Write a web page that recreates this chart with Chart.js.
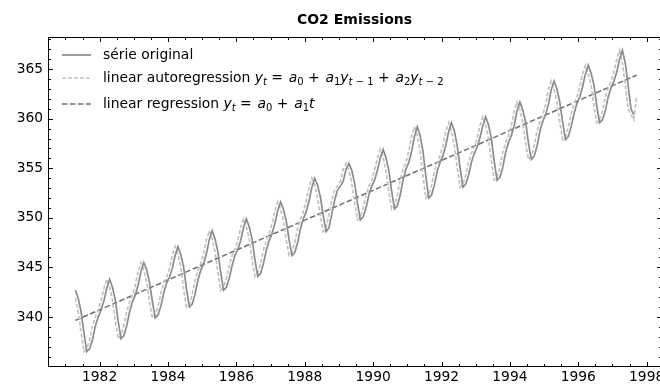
<!DOCTYPE html>
<html>
<head>
<meta charset="utf-8">
<script src="https://cdn.jsdelivr.net/npm/chart.js@4/dist/chart.umd.min.js"></script>
<style>
  html, body { margin: 0; padding: 0; background: #fff; overflow: hidden; }
  #wrap { width: 660px; height: 385px; overflow: hidden; position: relative; }
  #wrap canvas { position: absolute; left: 0; top: 0; }
</style>
</head>
<body>
<div id="wrap"><canvas id="chart" width="680" height="385" style="width:680px;height:385px"></canvas></div>
<script>
// Monthly CO2 readings (ppm), May 1981 to September 1997
const startYear = 1981, startMonth = 5;
const co2 = [
  342.7, 341.9, 340.5, 338.4, 336.5, 336.8, 337.7, 339.1,
  340.0, 340.7, 341.6, 342.9, 343.8, 343.0, 341.7, 339.6, 337.8, 338.1, 339.1, 340.5,
  341.5, 342.2, 343.2, 344.6, 345.5, 344.8, 343.5, 341.6, 339.9, 340.2, 341.1, 342.4,
  343.4, 344.0, 344.9, 346.2, 347.1, 346.3, 345.0, 342.8, 341.0, 341.3, 342.3, 343.7,
  344.7, 345.4, 346.4, 347.8, 348.7, 347.9, 346.6, 344.5, 342.7, 343.0, 343.9, 345.2,
  346.2, 346.8, 347.7, 349.0, 349.9, 349.1, 347.9, 345.8, 344.1, 344.4, 345.4, 346.7,
  347.7, 348.4, 349.4, 350.7, 351.6, 350.9, 349.7, 347.8, 346.2, 346.5, 347.5, 348.9,
  349.9, 350.6, 351.7, 353.1, 354.0, 353.3, 352.1, 350.2, 348.6, 349.0, 350.4, 351.8,
  352.8, 353.2, 353.7, 354.9, 355.5, 354.8, 353.5, 351.5, 349.8, 350.1, 351.0, 352.3,
  353.2, 353.8, 354.8, 356.0, 356.9, 356.1, 354.8, 352.7, 350.9, 351.2, 352.3, 353.8,
  354.9, 355.6, 356.7, 358.2, 359.2, 358.3, 356.7, 354.2, 352.0, 352.3, 353.3, 354.7,
  355.6, 356.3, 357.3, 358.7, 359.6, 358.8, 357.3, 355.1, 353.1, 353.4, 354.3, 355.6,
  356.5, 357.1, 358.1, 359.3, 360.2, 359.4, 358.0, 355.7, 353.8, 354.1, 355.1, 356.6,
  357.6, 358.3, 359.3, 360.8, 361.7, 360.9, 359.7, 357.6, 355.9, 356.2, 357.2, 358.7,
  359.7, 360.4, 361.4, 362.9, 363.8, 363.0, 361.7, 359.7, 357.9, 358.2, 359.2, 360.5,
  361.5, 362.2, 363.2, 364.5, 365.4, 364.6, 363.4, 361.3, 359.6, 359.9, 360.8, 362.2,
  363.1, 363.8, 364.7, 366.0, 366.9, 365.6, 363.4, 361.0, 360.4
];

// Fitted values of the second-order autoregression, May 1981 to October 1997
const arFit = [
  341.9, 340.5, 338.4, 336.5, 336.8, 337.7, 339.1, 340.0,
  340.7, 341.6, 342.9, 343.8, 343.0, 341.7, 339.6, 337.8, 338.1, 339.1, 340.5, 341.5,
  342.2, 343.2, 344.6, 345.5, 344.8, 343.5, 341.6, 339.9, 340.2, 341.1, 342.4, 343.4,
  344.0, 344.9, 346.2, 347.1, 346.3, 345.0, 342.8, 341.0, 341.3, 342.3, 343.7, 344.7,
  345.4, 346.4, 347.8, 348.7, 347.9, 346.6, 344.5, 342.7, 343.0, 343.9, 345.2, 346.2,
  346.8, 347.7, 349.0, 349.9, 349.1, 347.9, 345.8, 344.1, 344.4, 345.4, 346.7, 347.7,
  348.4, 349.4, 350.7, 351.6, 350.9, 349.7, 347.8, 346.2, 346.5, 347.5, 348.9, 349.9,
  350.6, 351.7, 353.1, 354.0, 353.3, 352.1, 350.2, 348.6, 349.0, 350.4, 351.8, 352.8,
  353.2, 353.7, 354.9, 355.5, 354.8, 353.5, 351.5, 349.8, 350.1, 351.0, 352.3, 353.2,
  353.8, 354.8, 356.0, 356.9, 356.1, 354.8, 352.7, 350.9, 351.2, 352.3, 353.8, 354.9,
  355.6, 356.7, 358.2, 359.2, 358.3, 356.7, 354.2, 352.0, 352.3, 353.3, 354.7, 355.6,
  356.3, 357.3, 358.7, 359.6, 358.8, 357.3, 355.1, 353.1, 353.4, 354.3, 355.6, 356.5,
  357.1, 358.1, 359.3, 360.2, 359.4, 358.0, 355.7, 353.8, 354.1, 355.1, 356.6, 357.6,
  358.3, 359.3, 360.8, 361.7, 360.9, 359.7, 357.6, 355.9, 356.2, 357.2, 358.7, 359.7,
  360.4, 361.4, 362.9, 363.8, 363.0, 361.7, 359.7, 357.9, 358.2, 359.2, 360.5, 361.5,
  362.2, 363.2, 364.5, 365.4, 364.6, 363.4, 361.3, 359.6, 359.9, 360.8, 362.2, 363.1,
  363.8, 364.7, 366.0, 366.9, 365.6, 363.4, 361.0, 360.4, 359.9, 362.3
];

// Linear trend: value at the first and at the last fitted month
const trendValues = [339.65, 364.4];

const yearTicks = [1982, 1984, 1986, 1988, 1990, 1992, 1994, 1996, 1998];
const co2Ticks = [340, 345, 350, 355, 360, 365];
const chartTitle = 'CO2 Emissions';

// decimal year of the i-th monthly reading
const monthTime = i => startYear + (startMonth - 1.5 + i) / 12;

const seriesPoints = co2.map((v, i) => ({ x: monthTime(i), y: v }));
const arPoints = arFit.map((v, i) => ({ x: monthTime(i), y: v }));
const trendPoints = [
  { x: monthTime(0), y: trendValues[0] },
  { x: monthTime(arFit.length - 1), y: trendValues[1] }
];

const FONT = '"DejaVu Sans", "Liberation Sans", sans-serif';
Chart.defaults.font.family = FONT;
Chart.defaults.color = '#000';

// axes box with inward ticks on all four sides, and the title centred over the axes
const framePlugin = {
  id: 'frame',
  afterDatasetsDraw(chart) {
    const { ctx, chartArea: a, scales: { x, y } } = chart;
    const L = Math.round(a.left) + 0.5, R = Math.round(a.right) + 0.5;
    const T = Math.round(a.top) + 0.5, B = Math.round(a.bottom) + 0.5;
    ctx.save();
    ctx.strokeStyle = '#000';
    ctx.lineWidth = 1;
    ctx.setLineDash([]);
    ctx.strokeRect(L, T, R - L, B - T);
    ctx.beginPath();
    const xTick = (v, len) => {
      const px = Math.round(x.getPixelForValue(v)) + 0.5;
      if (px < L || px > R) return;
      ctx.moveTo(px, B); ctx.lineTo(px, B - len);
      ctx.moveTo(px, T); ctx.lineTo(px, T + len);
    };
    const yTick = (v, len) => {
      const py = Math.round(y.getPixelForValue(v)) + 0.5;
      if (py < T || py > B) return;
      ctx.moveTo(L, py); ctx.lineTo(L + len, py);
      ctx.moveTo(R, py); ctx.lineTo(R - len, py);
    };
    yearTicks.forEach(v => xTick(v, 4.5));
    for (let v = Math.ceil(x.min * 2) / 2; v <= x.max; v += 0.5) {
      if (!yearTicks.includes(v)) xTick(v, 2.5);
    }
    co2Ticks.forEach(v => yTick(v, 4.5));
    for (let v = Math.ceil(y.min); v <= y.max; v += 1) {
      if (!co2Ticks.includes(v)) yTick(v, 2.5);
    }
    ctx.stroke();

    ctx.fillStyle = '#000';
    ctx.font = `bold 14px ${FONT}`;
    ctx.textAlign = 'center';
    ctx.textBaseline = 'middle';
    ctx.fillText(chartTitle, (a.left + a.right) / 2, 20);
    ctx.restore();
  }
};

// legend rows with the model formulas typeset in italic with subscripts
const legendRows = [
  [{ t: 'série original' }],
  [{ t: 'linear autoregression ' },
   { t: 'y', i: 1 }, { t: 't', i: 1, s: 1 }, { t: ' = ', w: 1 },
   { t: 'a', i: 1 }, { t: '0', s: 1 }, { t: ' + ', w: 1 },
   { t: 'a', i: 1 }, { t: '1', s: 1 }, { t: 'y', i: 1 }, { t: 't', i: 1, s: 1 }, { t: ' \u2212 ', s: 1 }, { t: '1', s: 1 },
   { t: ' + ', w: 1 },
   { t: 'a', i: 1 }, { t: '2', s: 1 }, { t: 'y', i: 1 }, { t: 't', i: 1, s: 1 }, { t: ' \u2212 ', s: 1 }, { t: '2', s: 1 }],
  [{ t: 'linear regression ' },
   { t: 'y', i: 1 }, { t: 't', i: 1, s: 1 }, { t: ' = ', w: 1 },
   { t: 'a', i: 1 }, { t: '0', s: 1 }, { t: ' + ', w: 1 },
   { t: 'a', i: 1 }, { t: '1', s: 1 }, { t: 't', i: 1 }]
];

const legendPlugin = {
  id: 'formulaLegend',
  afterDraw(chart) {
    const { ctx } = chart;
    const size = 13.9;
    const rowsY = [55, 78, 104];
    const hx0 = 62, hx1 = 91, tx = 103;
    ctx.save();
    legendRows.forEach((row, r) => {
      const ds = chart.data.datasets[r];
      const yy = rowsY[r];
      ctx.beginPath();
      ctx.strokeStyle = ds.borderColor;
      ctx.lineWidth = ds.borderWidth;
      ctx.setLineDash(ds.borderDash || []);
      ctx.moveTo(hx0, yy);
      ctx.lineTo(hx1, yy);
      ctx.stroke();
      ctx.setLineDash([]);
      let cx = tx;
      ctx.fillStyle = '#000';
      ctx.textBaseline = 'middle';
      ctx.textAlign = 'left';
      row.forEach(seg => {
        const fs = seg.s ? size * 0.72 : size;
        ctx.font = `${seg.i ? 'italic ' : ''}${fs}px ${FONT}`;
        const dy = seg.s ? size * 0.3 : 0;
        ctx.fillText(seg.t, cx, yy + dy);
        cx += ctx.measureText(seg.t).width + (seg.w ? size * 0.1 : 0);
      });
    });
    ctx.restore();
  }
};

new Chart(document.getElementById('chart'), {
  type: 'line',
  data: {
    datasets: [
      {
        label: 'série original',
        data: seriesPoints,
        borderColor: '#8c8c8c',
        borderWidth: 1.7,
        pointRadius: 0,
        tension: 0
      },
      {
        label: 'linear autoregression',
        data: arPoints,
        borderColor: '#c2c2c2',
        borderWidth: 1.7,
        borderDash: [4, 2],
        pointRadius: 0,
        tension: 0
      },
      {
        label: 'linear regression',
        data: trendPoints,
        borderColor: '#6e6e6e',
        borderWidth: 1.5,
        borderDash: [5.5, 2.5],
        pointRadius: 0,
        tension: 0
      }
    ]
  },
  options: {
    responsive: false,
    animation: false,
    devicePixelRatio: 1,
    layout: { padding: { left: 0, right: 19, top: 37, bottom: 0 } },
    plugins: {
      legend: { display: false },
      tooltip: { enabled: false },
      title: { display: false }
    },
    scales: {
      x: {
        type: 'linear',
        min: 1980.49,
        max: 1998.42,
        grid: { display: false, drawTicks: false },
        border: { display: false },
        afterBuildTicks: s => { s.ticks = yearTicks.map(v => ({ value: v })); },
        afterFit: s => { s.height = 19; },
        ticks: {
          autoSkip: false,
          maxRotation: 0,
          includeBounds: false,
          padding: 3,
          color: '#000',
          font: { family: FONT, size: 13.8 },
          callback: v => String(v)
        }
      },
      y: {
        min: 335.05,
        max: 368.25,
        grid: { display: false, drawTicks: false },
        border: { display: false },
        afterBuildTicks: s => { s.ticks = co2Ticks.map(v => ({ value: v })); },
        afterFit: s => { s.width = 48; },
        ticks: {
          includeBounds: false,
          padding: 5,
          color: '#000',
          font: { family: FONT, size: 13.8 },
          callback: v => String(v)
        }
      }
    }
  },
  plugins: [framePlugin, legendPlugin]
});
</script>
</body>
</html>
